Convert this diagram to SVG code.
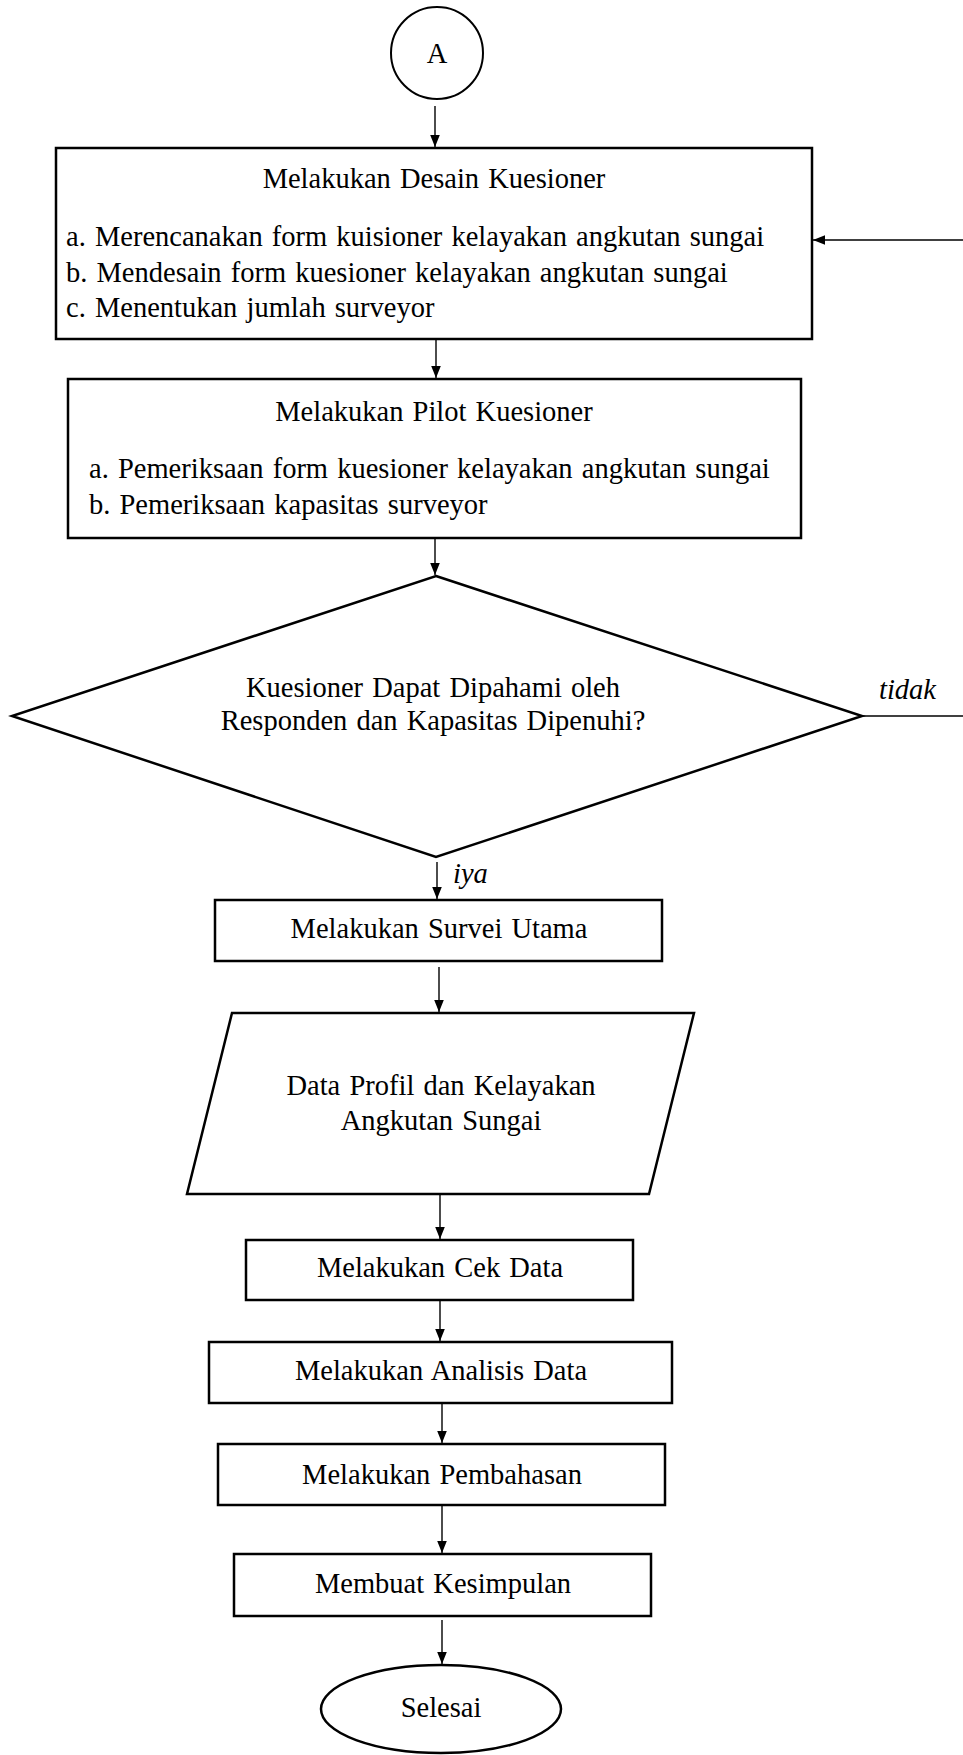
<svg xmlns="http://www.w3.org/2000/svg" width="963" height="1755" viewBox="0 0 963 1755">
<style>
.n{fill:#fff;stroke:#000;stroke-width:2.5}
.c{fill:none;stroke:#000;stroke-width:1.4}
text{font-family:"Liberation Serif","Times New Roman",serif;font-size:28.5px;word-spacing:2px;fill:#000}
.m{text-anchor:middle}
.i{font-style:italic}
</style>
<defs>
<marker id="ah" markerWidth="12" markerHeight="15" refX="15" refY="6" orient="auto" markerUnits="userSpaceOnUse" viewBox="0 0 15 12">
<path d="M0,0 L15,6 L0,12 Z" fill="#000"/>
</marker>
</defs>
<rect width="963" height="1755" fill="#fff"/>
<g id="connectors">
<line class="c" x1="435" y1="106" x2="435" y2="147" marker-end="url(#ah)"/>
<line class="c" x1="436" y1="340" x2="436" y2="378" marker-end="url(#ah)"/>
<line class="c" x1="435" y1="539" x2="435" y2="575" marker-end="url(#ah)"/>
<line class="c" x1="437" y1="862" x2="437" y2="899" marker-end="url(#ah)"/>
<line class="c" x1="439" y1="967" x2="439" y2="1012" marker-end="url(#ah)"/>
<line class="c" x1="440" y1="1195" x2="440" y2="1239" marker-end="url(#ah)"/>
<line class="c" x1="440" y1="1301" x2="440" y2="1341" marker-end="url(#ah)"/>
<line class="c" x1="442" y1="1399" x2="442" y2="1443" marker-end="url(#ah)"/>
<line class="c" x1="442" y1="1506" x2="442" y2="1553" marker-end="url(#ah)"/>
<line class="c" x1="442" y1="1620" x2="442" y2="1664" marker-end="url(#ah)"/>
<line class="c" x1="862" y1="716" x2="963" y2="716"/>
<line class="c" x1="963" y1="240" x2="813" y2="240" marker-end="url(#ah)"/>
<text class="i" x="879" y="699">tidak</text>
<text class="i" x="453" y="883">iya</text>
</g>
<g id="start">
<circle class="n" cx="437" cy="53" r="46" style="stroke-width:2"/>
<text class="m" x="437" y="63">A</text>
</g>
<g id="desain">
<rect class="n" x="56" y="148" width="756" height="191"/>
<text class="m" x="434" y="188">Melakukan Desain Kuesioner</text>
<text x="66" y="246">a. Merencanakan form kuisioner kelayakan angkutan sungai</text>
<text x="66" y="282">b. Mendesain form kuesioner kelayakan angkutan sungai</text>
<text x="66" y="317">c. Menentukan jumlah surveyor</text>
</g>
<g id="pilot">
<rect class="n" x="68" y="379" width="733" height="159"/>
<text class="m" x="434" y="421">Melakukan Pilot Kuesioner</text>
<text x="89" y="478">a. Pemeriksaan form kuesioner kelayakan angkutan sungai</text>
<text x="89" y="514">b. Pemeriksaan kapasitas surveyor</text>
</g>
<g id="decision">
<polygon class="n" points="436,576 862,716 436,857 12,716"/>
<text class="m" x="433" y="697">Kuesioner Dapat Dipahami oleh</text>
<text class="m" x="433" y="730">Responden dan Kapasitas Dipenuhi?</text>
</g>
<g id="survei">
<rect class="n" x="215" y="900" width="447" height="61"/>
<text class="m" x="439" y="938">Melakukan Survei Utama</text>
</g>
<g id="data">
<polygon class="n" points="232,1013 694,1013 649,1194 187,1194"/>
<text class="m" x="441" y="1095">Data Profil dan Kelayakan</text>
<text class="m" x="441" y="1130">Angkutan Sungai</text>
</g>
<g id="cek">
<rect class="n" x="246" y="1240" width="387" height="60"/>
<text class="m" x="440" y="1277">Melakukan Cek Data</text>
</g>
<g id="analisis">
<rect class="n" x="209" y="1342" width="463" height="61"/>
<text class="m" x="441" y="1380">Melakukan Analisis Data</text>
</g>
<g id="pembahasan">
<rect class="n" x="218" y="1444" width="447" height="61"/>
<text class="m" x="442" y="1484">Melakukan Pembahasan</text>
</g>
<g id="kesimpulan">
<rect class="n" x="234" y="1554" width="417" height="62"/>
<text class="m" x="443" y="1593">Membuat Kesimpulan</text>
</g>
<g id="selesai">
<ellipse class="n" cx="441" cy="1709" rx="120" ry="44"/>
<text class="m" x="441" y="1717">Selesai</text>
</g>
</svg>
